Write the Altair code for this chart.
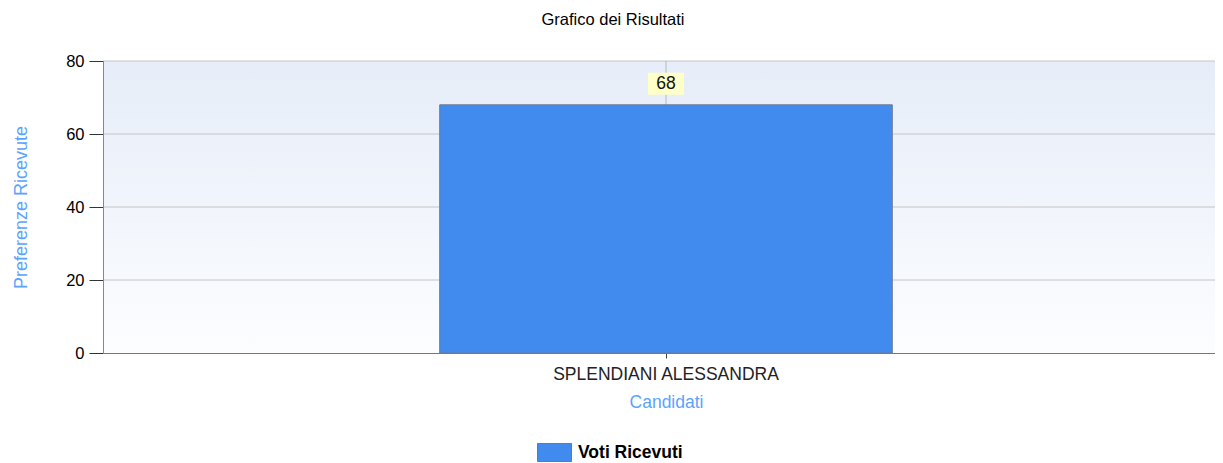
import altair as alt
import pandas as pd

candidati = ["SPLENDIANI ALESSANDRA"]
voti = [68]
serie = ["Voti Ricevuti"]
y_ticks = [0, 20, 40, 60, 80]

W, H = 1112, 292
XR = 1126
FONT = "Liberation Sans"
BLUE_TXT = "#5ba3ff"

df = pd.DataFrame({"Candidati": candidati, "Voti": voti, "Serie": serie})
grid_df = pd.DataFrame({"Voti": y_ticks[1:]})

x_enc = alt.X(
    "Candidati:N",
    title="Candidati",
    scale=alt.Scale(paddingInner=0, paddingOuter=0, range=[0, XR]),
    axis=alt.Axis(
        labelAngle=0, grid=False, bandPosition=0.5, tickSize=5, tickColor="#444",
        domainColor="#777", labelPadding=7, labelFontSize=17.5, labelColor="#222",
        labelLimit=600, labelFont=FONT, titleFont=FONT, titleFontSize=17.5,
        titleFontWeight="normal", titleColor=BLUE_TXT, titlePadding=11, zindex=1,
    ),
)
y_enc = alt.Y(
    "Voti:Q",
    title="Preferenze Ricevute",
    scale=alt.Scale(domain=[0, 80], nice=False),
    axis=alt.Axis(
        values=y_ticks, grid=False, tickSize=14, tickColor="#333", domainColor="#888",
        labelPadding=5, labelFontSize=16.5, labelColor="#000", labelFont=FONT,
        titleFont=FONT, titleFontSize=18, titleFontWeight="normal", titleColor=BLUE_TXT,
        titlePadding=35, zindex=1,
    ),
)

gradient = alt.LinearGradient(
    gradient="linear", x1=0, x2=0, y1=0, y2=1,
    stops=[alt.GradientStop(color="#e6edf8", offset=0),
           alt.GradientStop(color="#fcfdff", offset=1)],
)

bg = alt.Chart(df).mark_rect(fill=gradient).encode(
    x=alt.value(0), x2=alt.value(XR), y=alt.value(0), y2=alt.value(H)
)

hgrid = alt.Chart(grid_df).mark_rule(color="#c4c4c4", strokeWidth=1).encode(
    y=y_enc, x=alt.value(0), x2=alt.value(XR)
)
vgrid = alt.Chart(df).mark_rule(color="#b8b8b8", strokeWidth=1).encode(x=x_enc)

bars = alt.Chart(df).mark_bar(
    width=alt.RelativeBandSize(0.402), stroke="#6f7d96", strokeWidth=1
).encode(
    x=x_enc,
    y=y_enc,
    color=alt.Color(
        "Serie:N",
        scale=alt.Scale(range=["#418aee"]),
        legend=alt.Legend(
            title=None, orient="none", legendX=434, legendY=374,
            symbolType="M-1,-0.53H1V0.53H-1Z", symbolSize=1156,
            symbolStrokeColor="#777", symbolStrokeWidth=1, symbolOpacity=1,
            labelFont=FONT, labelFontSize=17.5, labelFontWeight="bold", labelColor="#000",
            labelOffset=6,
        ),
    ),
)

box = alt.Chart(df).mark_point(
    shape="M-1,-0.61H1V0.61H-1Z", size=1296, filled=True, fill="#ffffc8",
    opacity=1, yOffset=-21,
).encode(x=x_enc, y=y_enc)

labels = alt.Chart(df).mark_text(
    yOffset=-21, fontSize=17.5, font=FONT, color="#111", baseline="middle"
).encode(x=x_enc, y=y_enc, text="Voti:Q")

chart = alt.layer(bg, hgrid, vgrid, bars, box, labels).properties(
    width=W, height=H,
    title=alt.TitleParams(
        "Grafico dei Risultati", fontSize=16.5, fontWeight="normal", font=FONT,
        color="#000", anchor="middle", dx=-46, offset=25,
    ),
    padding={"left": 95, "top": 53, "right": 0, "bottom": 110},
    autosize=alt.AutoSizeParams(type="none"),
).configure_view(stroke=None)

chart.save("out.html", embed_options={"renderer": "svg", "actions": False})
